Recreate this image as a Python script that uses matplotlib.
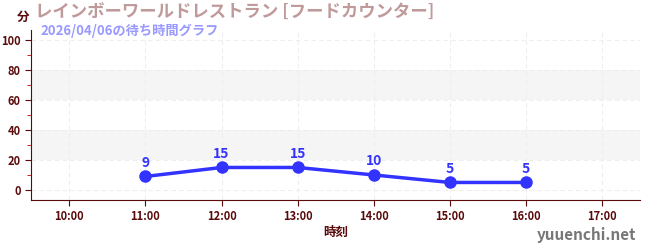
import matplotlib.pyplot as plt
from matplotlib.ticker import MultipleLocator

plt.rcParams['font.family'] = ['Noto Sans CJK JP', 'DejaVu Sans']

hours = [11, 12, 13, 14, 15, 16]
waits = [9, 15, 15, 10, 5, 5]
xticks = [10, 11, 12, 13, 14, 15, 16, 17]
xlabels = ['10:00', '11:00', '12:00', '13:00', '14:00', '15:00', '16:00', '17:00']
yticks = [0, 20, 40, 60, 80, 100]

dark = '#5a0a0a'
blue = '#3333ff'

fig = plt.figure(figsize=(6.5, 2.5), dpi=100)
ax = fig.add_axes([0.048, 0.2, 0.937, 0.68])

ax.set_xlim(9.5, 17.5)
ax.set_ylim(-6.7, 106.7)

# alternating bands
for lo in [20, 60]:
    ax.axhspan(lo, lo + 20, color='#f5f5f5', zorder=0, lw=0)

ax.grid(True, color='#eeeeee', ls=(0, (4, 3)), lw=0.8)
ax.set_axisbelow(True)

ax.plot(hours, waits, color=blue, lw=2.5, marker='o', ms=8, zorder=3)
for h, w in zip(hours, waits):
    ax.annotate(str(w), (h, w), xytext=(0, 5), textcoords='offset points',
                ha='center', va='bottom', color=blue, fontsize=10, fontweight='bold')

ax.set_xticks(xticks)
ax.set_xticklabels(xlabels)
ax.set_yticks(yticks)
ax.yaxis.set_minor_locator(MultipleLocator(10))
ax.tick_params(axis='both', colors=dark, labelsize=8, length=4)
ax.tick_params(axis='y', which='minor', color='#cc0000', length=3)
for lab in ax.get_xticklabels() + ax.get_yticklabels():
    lab.set_fontweight('bold')

for s in ['top', 'right']:
    ax.spines[s].set_visible(False)
for s in ['left', 'bottom']:
    ax.spines[s].set_color(dark)

ax.set_xlabel('時刻', color=dark, fontsize=9, fontweight='bold', labelpad=2)

fig.text(0.045, 0.93, '分', color=dark, fontsize=9, fontweight='bold', ha='right', va='center')
fig.text(0.054, 0.948, 'レインボーワールドレストラン [フードカウンター]', color='#c09a9a',
         fontsize=12.5, fontweight='bold', va='center')
fig.text(0.062, 0.878, '2026/04/06の待ち時間グラフ', color='#9999ff',
         fontsize=9.5, fontweight='bold', va='center')
fig.text(0.978, 0.06, 'yuuenchi.net', color='#777777', fontsize=11,
         fontweight='bold', ha='right', va='center')

fig.savefig('out.png', dpi=100)
